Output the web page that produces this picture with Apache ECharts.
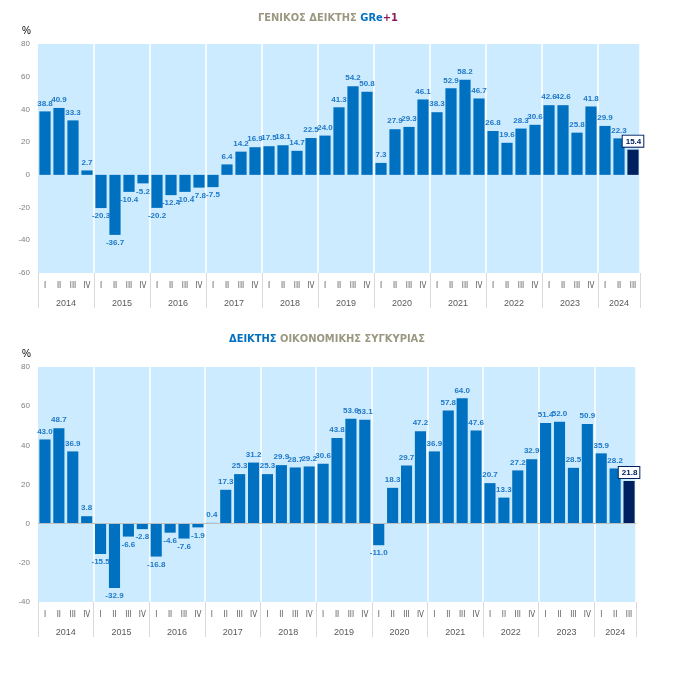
<!DOCTYPE html>
<html>
<head>
<meta charset="utf-8">
<script src="https://cdn.jsdelivr.net/npm/echarts@6/dist/echarts.min.js"></script>
<style>html,body{margin:0;padding:0;background:#fff}#c{width:682px;height:683px}</style>
</head>
<body>
<div id="c"></div>
<script>
const years = ['2014','2015','2016','2017','2018','2019','2020','2021','2022','2023','2024'];
const quarterNames = ['I','II','III','IV'];
const greValues = [
  38.8, 40.9, 33.3, 2.7,
  -20.3, -36.7, -10.4, -5.2,
  -20.2, -12.4, -10.4, -7.8,
  -7.5, 6.4, 14.2, 16.9,
  17.5, 18.1, 14.7, 22.5,
  24.0, 41.3, 54.2, 50.8,
  7.3, 27.9, 29.3, 46.1,
  38.3, 52.9, 58.2, 46.7,
  26.8, 19.6, 28.3, 30.6,
  42.6, 42.6, 25.8, 41.8,
  29.9, 22.3, 15.4
];
const ecoValues = [
  43.0, 48.7, 36.9, 3.8,
  -15.5, -32.9, -6.6, -2.8,
  -16.8, -4.6, -7.6, -1.9,
  0.4, 17.3, 25.3, 31.2,
  25.3, 29.9, 28.7, 29.2,
  30.6, 43.8, 53.6, 53.1,
  -11.0, 18.3, 29.7, 47.2,
  36.9, 57.8, 64.0, 47.6,
  20.7, 13.3, 27.2, 32.9,
  51.4, 52.0, 28.5, 50.9,
  35.9, 28.2, 21.8
];

const BLUE = '#0070C0', NAVY = '#002060', LBL = '#1F78C8', GRAY = '#7F7F7F';
const n = greValues.length;
const categories = greValues.map((v, i) => quarterNames[i % 4]);
const yearStarts = years.map((y, i) => i * 4);
const yearEnds = years.map((y, i) => Math.min(i * 4 + 4, n));
const yearCenters = years.map((y, i) => (yearStarts[i] + yearEnds[i]) / 2);
const boundaries = yearStarts.concat([n]);

function barData(vals) {
  return vals.map((v, i) => {
    const last = i === vals.length - 1;
    const item = {
      value: v,
      itemStyle: { color: last ? NAVY : BLUE },
      label: { position: v >= 0 ? 'top' : 'bottom' }
    };
    if (last) {
      item.label = {
        position: 'top', color: NAVY, backgroundColor: '#fff',
        borderColor: NAVY, borderWidth: 1, padding: [2, 2, 1, 3], distance: 3
      };
    }
    return item;
  });
}

function buildAxes(gi) {
  return [
    {
      type: 'category', gridIndex: gi, data: categories, position: 'bottom',
      axisLine: { show: false, onZero: false }, axisTick: { show: false },
      axisLabel: { color: '#595959', fontSize: 8, margin: 9, interval: 0, fontFamily: 'Liberation Sans Narrow, DejaVu Sans Condensed, sans-serif' },
      splitLine: { show: true, interval: (idx) => idx % 4 === 0 && idx > 0, lineStyle: { color: '#ffffff', width: 1.5 } }
    },
    {
      type: 'value', gridIndex: gi, min: 0, max: n, position: 'bottom',
      axisLine: { show: false, onZero: false }, splitLine: { show: false },
      axisTick: { show: true, customValues: boundaries, length: 35, lineStyle: { color: '#D9D9D9' } },
      axisLabel: {
        customValues: yearCenters, margin: 26, color: '#595959', fontSize: 9,
        fontFamily: 'Liberation Sans, sans-serif',
        formatter: (v) => { const k = yearCenters.indexOf(v); return k >= 0 ? years[k] : ''; }
      }
    }
  ];
}

function yAx(gi, min, max) {
  return {
    type: 'value', gridIndex: gi, min: min, max: max, interval: 20,
    name: '%', nameLocation: 'end', nameGap: 8,
    nameTextStyle: { color: '#000', fontSize: 10, align: 'right', padding: [0, 7, 0, 0] },
    axisLine: { show: false }, axisTick: { show: false }, splitLine: { show: false },
    axisLabel: { color: GRAY, fontSize: 8, margin: 8, fontFamily: 'Liberation Sans Narrow, sans-serif' }
  };
}

const labelCommon = {
  show: true, fontSize: 8, fontWeight: 'bold', color: LBL, distance: 4,
  fontFamily: 'Liberation Sans, sans-serif',
  formatter: (p) => p.value.toFixed(1)
};

const TF = 'Liberation Sans Narrow, DejaVu Sans Condensed, sans-serif';
const chart = echarts.init(document.getElementById('c'), null, { renderer: 'canvas' });
chart.setOption({
  animation: false,
  title: [
    {
      text: '{g|ΓΕΝΙΚΟΣ ΔΕΙΚΤΗΣ }{b|GRe}{m|+1}', left: 253, top: 8,
      textStyle: {
        rich: {
          g: { color: '#9A9880', fontSize: 11, fontWeight: 'bold', fontFamily: TF },
          b: { color: BLUE, fontSize: 11, fontWeight: 'bold', fontFamily: TF },
          m: { color: '#8B1A5A', fontSize: 11, fontWeight: 'bold', fontFamily: TF }
        }
      }
    },
    {
      text: '{b|ΔΕΙΚΤΗΣ }{g|ΟΙΚΟΝΟΜΙΚΗΣ ΣΥΓΚΥΡΙΑΣ}', left: 224, top: 329,
      textStyle: {
        rich: {
          b: { color: BLUE, fontSize: 11, fontWeight: 'bold', fontFamily: TF },
          g: { color: '#9A9880', fontSize: 11, fontFamily: TF }
        }
      }
    }
  ],
  grid: [
    { left: 38, top: 44, width: 602, height: 229, show: true, backgroundColor: '#CCEBFF', borderWidth: 0 },
    { left: 38, top: 367, width: 598, height: 235, show: true, backgroundColor: '#CCEBFF', borderWidth: 0 }
  ],
  xAxis: buildAxes(0).concat(buildAxes(1)),
  yAxis: [yAx(0, -60, 80), yAx(1, -40, 80)],
  series: [
    {
      type: 'bar', xAxisIndex: 0, yAxisIndex: 0, data: barData(greValues),
      barCategoryGap: '20%', label: labelCommon
    },
    {
      type: 'bar', xAxisIndex: 2, yAxisIndex: 1, data: barData(ecoValues),
      barCategoryGap: '20%', label: labelCommon,
      markLine: { silent: true, symbol: 'none', label: { show: false }, lineStyle: { color: '#BFBFBF', width: 1, type: 'solid' }, data: [{ yAxis: 0 }] }
    }
  ]
});
</script>
</body>
</html>
